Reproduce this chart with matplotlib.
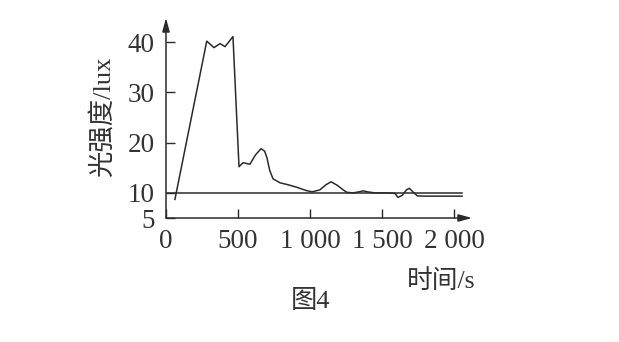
import matplotlib.pyplot as plt

plt.rcParams['font.family'] = ['Liberation Serif', 'Noto Sans CJK SC']

# 光强度随时间变化
shijian = [62, 283, 333, 375, 410, 465, 507, 535, 583, 620, 660, 685, 701, 720,
           743, 792, 850, 910, 970, 1014, 1069, 1110, 1146, 1190, 1230, 1257,
           1300, 1340, 1370, 1400, 1450, 1520, 1590, 1611, 1640, 1670, 1690,
           1715, 1745, 1800, 2056]
guangqiang = [8.7, 40.2, 38.9, 39.7, 39.1, 41.1, 15.2, 16.0, 15.7, 17.5, 18.8,
              18.3, 17.0, 14.5, 12.8, 12.0, 11.6, 11.1, 10.5, 10.2, 10.6, 11.6,
              12.2, 11.5, 10.6, 10.1, 10.0, 10.2, 10.4, 10.2, 10.0, 10.0, 9.9,
              9.1, 9.5, 10.6, 10.9, 10.2, 9.4, 9.35, 9.35]

ref_level = 10
ref_end = 2056

xticks = [0, 500, 1000, 1500, 2000]
xtick_labels = ['0', '500', '1 000', '1 500', '2 000']
yticks = [5, 10, 20, 30, 40]
ytick_labels = ['5', '10', '20', '30', '40']

ink = '#2b2b2b'

fig = plt.figure(figsize=(6.19, 3.42), dpi=100)
ax = fig.add_axes([166 / 619, 1 - 218 / 342, (472 - 166) / 619, (218 - 18) / 342])

ax.plot(shijian, guangqiang, color=ink, lw=1.1)
ax.plot([0, ref_end], [ref_level, ref_level], color=ink, lw=1.1)

ax.set_xlim(0, 2125)
ax.set_ylim(5, 44.8)

for s in ax.spines.values():
    s.set_visible(False)

# 坐标轴箭头
arrow = dict(arrowstyle='-|>,head_length=0.8,head_width=0.22', lw=1.1,
             color=ink, shrinkA=0, shrinkB=0)
ax.annotate('', xy=(0, 1), xytext=(0, 0), xycoords='axes fraction', arrowprops=arrow,
            annotation_clip=False)
ax.annotate('', xy=(1, 0), xytext=(0, 0), xycoords='axes fraction', arrowprops=arrow,
            annotation_clip=False)

ax.set_xticks(xticks)
ax.set_xticklabels(xtick_labels)
ax.set_yticks(yticks)
ax.set_yticklabels(ytick_labels)
ax.tick_params(direction='in', length=6.5, width=1.0, color=ink,
               labelsize=19.5, labelcolor='#333333')
ax.tick_params(axis='x', pad=8)
ax.tick_params(axis='y', pad=8)

fig.text(102 / 619, 1 - 117 / 342, '光强度/lux', rotation=90, ha='center', va='center',
         fontsize=19, color='#333333')
fig.text(441 / 619, 1 - 281 / 342, '时间/s', ha='center', va='center',
         fontsize=18.5, color='#333333')
fig.text(311 / 619, 1 - 302 / 342, '图4', ha='center', va='center',
         fontsize=19, color='#333333')

fig.savefig('out.png', dpi=100)
